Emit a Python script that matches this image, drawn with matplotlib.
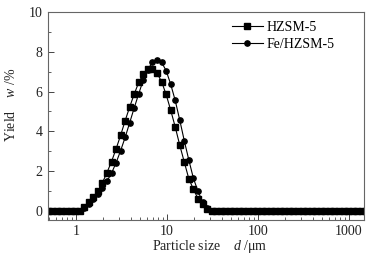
import numpy as np
import matplotlib
matplotlib.use("Agg")
import matplotlib.pyplot as plt
from matplotlib.ticker import LogLocator, NullFormatter, MultipleLocator, FixedLocator, FixedFormatter

plt.rcParams["font.family"] = ["Liberation Serif", "DejaVu Serif"]
plt.rcParams["mathtext.fontset"] = "custom"
plt.rcParams["mathtext.it"] = "Liberation Serif:italic"
plt.rcParams["mathtext.rm"] = "Liberation Serif"

# instrument size bins (um), 20 per decade
sizes = 10 ** (0.04 + np.arange(-7, 64) * 0.05)

# yield w/% per bin (bins k=1..28, the rest are zero)
hzsm5_mid = [0.22, 0.44, 0.69, 1.02, 1.42, 1.93, 2.48, 3.12, 3.80, 4.54,
             5.23, 5.88, 6.47, 6.88, 7.14, 7.14, 6.92, 6.50, 5.85, 5.07,
             4.22, 3.30, 2.45, 1.61, 1.09, 0.62, 0.34, 0.10]
fe_hzsm5_mid = [0.15, 0.35, 0.60, 0.85, 1.15, 1.50, 1.90, 2.42, 3.03, 3.70,
                4.44, 5.19, 5.90, 6.60, 7.10, 7.47, 7.59, 7.47, 7.05, 6.37,
                5.55, 4.56, 3.52, 2.55, 1.64, 0.99, 0.47, 0.15]
n_left = 8
n_right = len(sizes) - n_left - len(hzsm5_mid)
hzsm5 = [0.0] * n_left + hzsm5_mid + [0.0] * n_right
fe_hzsm5 = [0.0] * n_left + fe_hzsm5_mid + [0.0] * n_right

fig = plt.figure(figsize=(3.71, 2.64), dpi=100)
ax = fig.add_axes([0.129, 0.167, 0.852, 0.788])

ax.plot(sizes, hzsm5, "-s", color="black", lw=0.8, ms=3.8, label="HZSM-5")
ax.plot(sizes, fe_hzsm5, "-o", color="black", lw=0.8, ms=3.8, label="Fe/HZSM-5")

ax.set_xscale("log")
ax.set_xlim(0.49, 1460)
ax.set_ylim(-0.45, 10)

ax.xaxis.set_major_locator(FixedLocator([1, 10, 100, 1000]))
ax.xaxis.set_major_formatter(FixedFormatter(["1", "10", "100", "1000"]))
ax.xaxis.set_minor_locator(LogLocator(base=10, subs=np.arange(2, 10), numticks=20))
ax.xaxis.set_minor_formatter(NullFormatter())
ax.yaxis.set_major_locator(MultipleLocator(2))
ax.yaxis.set_minor_locator(MultipleLocator(1))

ax.tick_params(which="both", direction="in", top=False, right=False,
               labelsize=10, colors="#444444", labelcolor="#222222")
ax.tick_params(which="major", length=4, width=0.7, pad=4)
ax.tick_params(which="minor", length=2, width=0.6)
for s in ax.spines.values():
    s.set_color("#666666")
    s.set_linewidth(0.8)

ax.set_xlabel("Particle size    $d$ /\u03bcm", fontsize=10, color="#222222")
ax.set_ylabel("Yield    $w$ /%", fontsize=10, color="#222222")
ax.xaxis.set_label_coords(0.513, -0.085)
ax.yaxis.set_label_coords(-0.095, 0.553)

ax.legend(loc="upper left", bbox_to_anchor=(0.565, 0.985), frameon=False,
          fontsize=10, handlelength=2.2, handletextpad=0.3, labelspacing=0.3,
          numpoints=1, borderaxespad=0)

fig.savefig("out.png", dpi=100)
